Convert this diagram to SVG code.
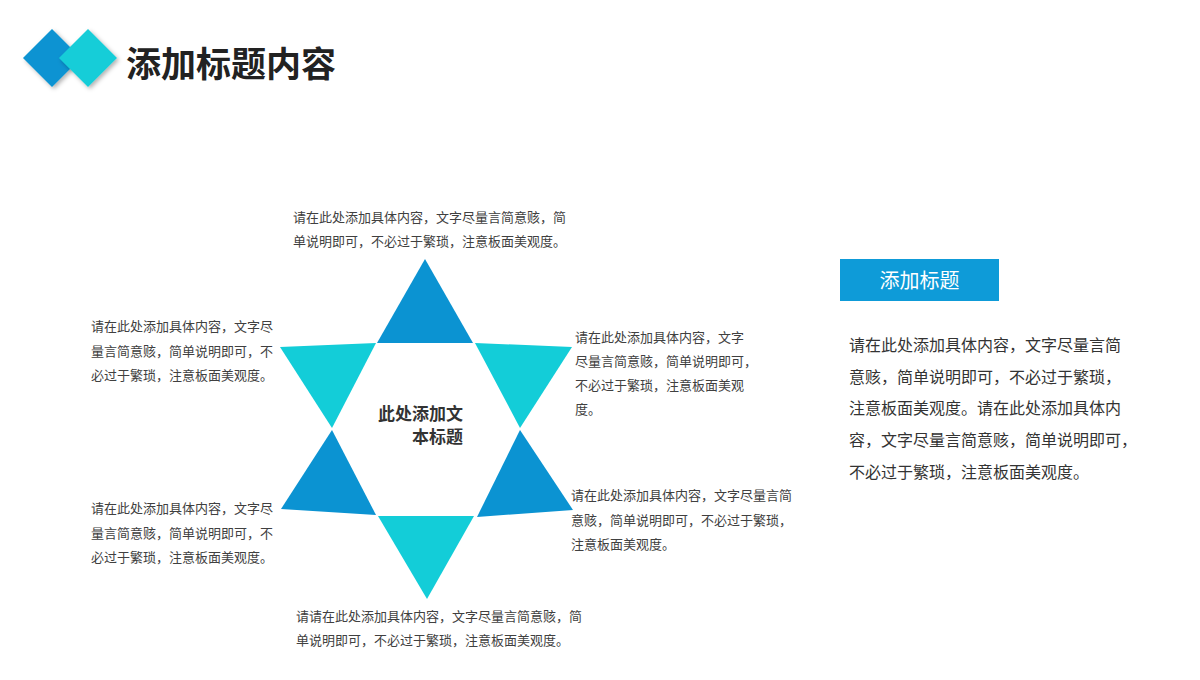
<svg xmlns="http://www.w3.org/2000/svg" width="1200" height="680" viewBox="0 0 1200 680">
<defs>
<filter id="sh" x="-30%" y="-30%" width="160%" height="160%"><feDropShadow dx="2" dy="2" stdDeviation="2" flood-color="#000" flood-opacity="0.3"/></filter>
<style>
.t{font-family:"Liberation Sans","Noto Sans CJK SC",sans-serif;font-size:13px;fill:#404040}
.p{font-family:"Liberation Sans","Noto Sans CJK SC",sans-serif;font-size:16px;fill:#333}
.dk{fill:#0b93d2}
.lt{fill:#13cdd8}
</style>
</defs>
<rect width="1200" height="680" fill="#fff"/>
<g id="header">
<polygon points="52,29 81,58 52,87 23,58" fill="#0b93d2" filter="url(#sh)"/>
<polygon points="88,29 117,58 88,87 59,58" fill="#13cdd8" filter="url(#sh)"/>
<text x="126" y="77" font-family="'Noto Sans CJK SC',sans-serif" font-weight="bold" font-size="35" fill="#222">添加标题内容</text>
</g>
<g id="star">
<polygon class="dk" points="425,259 377,343 473,343"/>
<polygon class="lt" points="280,347 376,343 332,428"/>
<polygon class="lt" points="475,343 572,347 520,428"/>
<polygon class="dk" points="332,430 281,509 376,515"/>
<polygon class="dk" points="520,430 573,510 477,517"/>
<polygon class="lt" points="378,516 474,516 427,599"/>
<text font-family="'Noto Sans CJK SC',serif" font-weight="bold" font-size="17" fill="#333" text-anchor="end"><tspan x="463" y="420">此处添加文</tspan><tspan x="463" y="443">本标题</tspan></text>
</g>
<g id="text-top"><text class="t"><tspan x="293" y="222">请在此处添加具体内容，文字尽量言简意赅，简</tspan><tspan x="293" y="246">单说明即可，不必过于繁琐，注意板面美观度。</tspan></text></g>
<g id="text-left-top"><text class="t"><tspan x="91" y="331">请在此处添加具体内容，文字尽</tspan><tspan x="91" y="356">量言简意赅，简单说明即可，不</tspan><tspan x="91" y="380">必过于繁琐，注意板面美观度。</tspan></text></g>
<g id="text-right-top"><text class="t"><tspan x="575" y="342">请在此处添加具体内容，文字</tspan><tspan x="575" y="366">尽量言简意赅，简单说明即可，</tspan><tspan x="575" y="390">不必过于繁琐，注意板面美观</tspan><tspan x="575" y="414">度。</tspan></text></g>
<g id="text-right-bottom"><text class="t"><tspan x="571" y="500">请在此处添加具体内容，文字尽量言简</tspan><tspan x="571" y="525">意赅，简单说明即可，不必过于繁琐，</tspan><tspan x="571" y="549">注意板面美观度。</tspan></text></g>
<g id="text-left-bottom"><text class="t"><tspan x="91" y="513">请在此处添加具体内容，文字尽</tspan><tspan x="91" y="538">量言简意赅，简单说明即可，不</tspan><tspan x="91" y="562">必过于繁琐，注意板面美观度。</tspan></text></g>
<g id="text-bottom"><text class="t"><tspan x="296" y="621">请请在此处添加具体内容，文字尽量言简意赅，简</tspan><tspan x="296" y="645">单说明即可，不必过于繁琐，注意板面美观度。</tspan></text></g>
<g id="panel">
<rect x="840" y="259" width="159" height="42" fill="#0e9bd8"/>
<text x="919.5" y="288" text-anchor="middle" font-family="'Liberation Sans','Noto Sans CJK SC',sans-serif" font-size="20" fill="#fff">添加标题</text>
<text class="p"><tspan x="849" y="351">请在此处添加具体内容，文字尽量言简</tspan><tspan x="849" y="383">意赅，简单说明即可，不必过于繁琐，</tspan><tspan x="849" y="414">注意板面美观度。请在此处添加具体内</tspan><tspan x="849" y="446">容，文字尽量言简意赅，简单说明即可，</tspan><tspan x="849" y="478">不必过于繁琐，注意板面美观度。</tspan></text>
</g>
</svg>
